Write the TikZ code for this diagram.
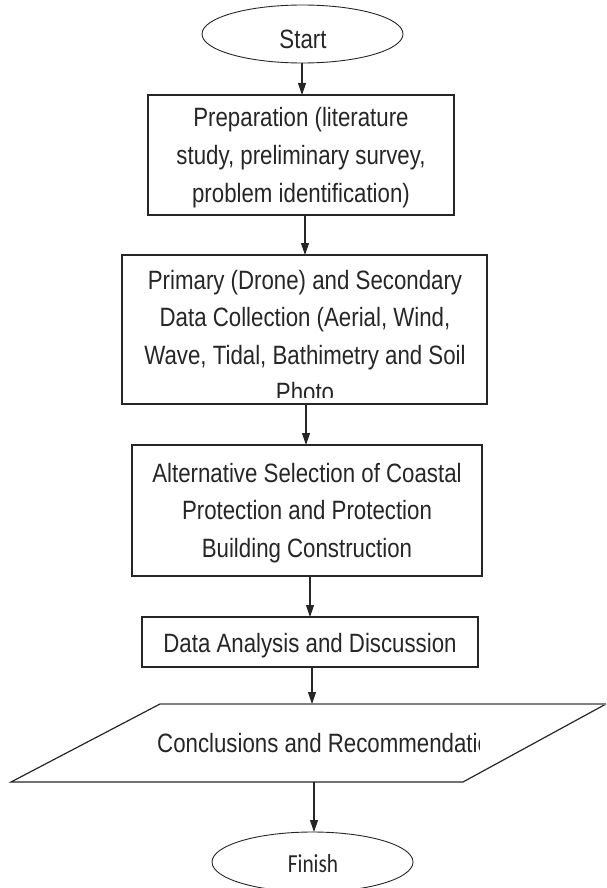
\documentclass[tikz,border=0pt]{standalone}
\usepackage{fontspec}
\usetikzlibrary{arrows.meta,shapes.geometric}
\newfontfamily\arialc[FakeStretch=0.84]{Liberation Sans}
\newfontfamily\finfont[FakeStretch=0.82]{Carlito}
\begin{document}
\begin{tikzpicture}[x=1pt,y=-1pt,
  box/.style={draw=black!85, line width=1.3pt, rectangle, inner sep=0pt, outer sep=0pt},
  term/.style={draw=black!85, line width=0.9pt, ellipse, inner sep=0pt, outer sep=0pt, minimum width=201pt},
  txt/.style={font=\arialc\fontsize{26.5}{37.5}\selectfont, text=black!85, inner sep=0pt, anchor=base},
  arr/.style={-{Triangle[length=12pt,width=8pt]}, line width=1.1pt, draw=black!85}]
\useasboundingbox (0,0) rectangle (607,888);

% shapes
\node[term, minimum height=58pt] (start) at (302.5,34) {};
\node[box, minimum width=306pt, minimum height=120pt] (prep) at (301,155) {};
\node[box, minimum width=365pt, minimum height=149pt] (coll) at (304.5,329.5) {};
\node[box, minimum width=350pt, minimum height=131pt] (alt) at (307,510.5) {};
\node[box, minimum width=336pt, minimum height=50pt] (anal) at (310,642) {};
\node[inner sep=0pt, outer sep=0pt, minimum width=300pt, minimum height=78pt] (conc) at (310,743) {};
\node[term, minimum height=60pt] (finish) at (312.5,862) {};

% parallelogram
\draw[black!85, line width=1.2pt] (160,704) -- (11,782) -- (463,782) -- (606,704);
\draw[gray, line width=2pt] (160,704) -- (606,704);

% texts
\node[txt] (t0) at (303,49) {Start};
\node[txt] (p1) at (301,127) {Preparation (literature};
\node[txt] (p2) at (301,164.5) {study, preliminary survey,};
\node[txt] (p3) at (301,202) {problem identification)};
\begin{scope}
\clip (122,255) rectangle (487,397.5);
\node[txt] (c1) at (305,289) {Primary (Drone) and Secondary};
\node[txt] (c2) at (305,326.5) {Data Collection (Aerial, Wind,};
\node[txt] (c3) at (305,364) {Wave, Tidal, Bathimetry and Soil};
\node[txt] (c4) at (305,401.5) {Photo};
\end{scope}
\node[txt] (a1) at (307,482) {Alternative Selection of Coastal};
\node[txt] (a2) at (307,519.5) {Protection and Protection};
\node[txt] (a3) at (307,557) {Building Construction};
\node[txt] (d1) at (310,652) {Data Analysis and Discussion};
\begin{scope}
\clip (0,700) rectangle (479,800);
\node[txt, anchor=base west] (k1) at (157,752) {Conclusions and Recommendations};
\end{scope}
\node[txt, font=\finfont\fontsize{26}{30}\selectfont] (f1) at (313,872) {Finish};

% connectors
\draw[arr] (start.south -| 302,0) -- (prep.north -| 302,0);
\draw[arr] (prep.south -| 305,0) -- (coll.north -| 305,0);
\draw[arr] (coll.south -| 306,0) -- (alt.north -| 306,0);
\draw[arr] (alt.south -| 310,0) -- (anal.north -| 310,0);
\draw[arr] (anal.south -| 312,0) -- (conc.north -| 312,0);
\draw[arr] (conc.south -| 314,0) -- (finish.north -| 314,0);
\end{tikzpicture}
\end{document}
